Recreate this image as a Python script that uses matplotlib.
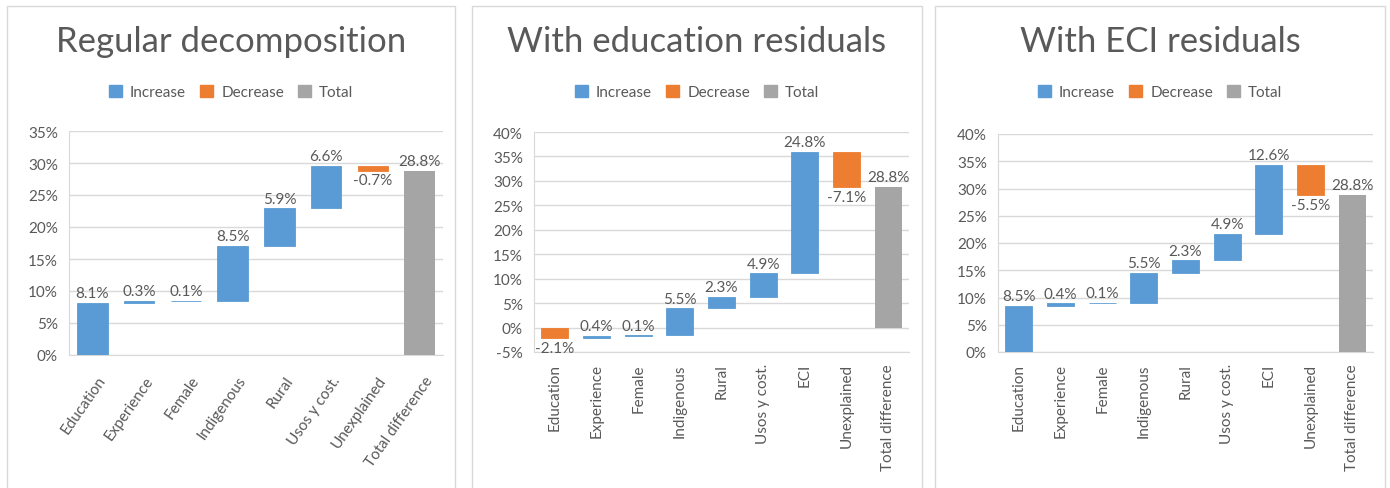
import numpy as np
import matplotlib.pyplot as plt
import matplotlib.transforms as mtransforms
from matplotlib.patches import Rectangle, Patch
from matplotlib.ticker import FuncFormatter

plt.rcParams['font.family'] = ['Lato', 'DejaVu Sans']

BLUE = '#5B9BD5'
ORANGE = '#ED7D31'
GRAY = '#A5A5A5'
TXT = '#595959'
GRID = '#D9D9D9'

# data (percentage points)
cats_regular = ["Education", "Experience", "Female", "Indigenous", "Rural",
                "Usos y cost.", "Unexplained"]
vals_regular = [8.1, 0.3, 0.1, 8.5, 5.9, 6.6, -0.7]

cats_edu = ["Education", "Experience", "Female", "Indigenous", "Rural",
            "Usos y cost.", "ECI", "Unexplained"]
vals_edu = [-2.1, 0.4, 0.1, 5.5, 2.3, 4.9, 24.8, -7.1]

cats_eci = ["Education", "Experience", "Female", "Indigenous", "Rural",
            "Usos y cost.", "ECI", "Unexplained"]
vals_eci = [8.5, 0.4, 0.1, 5.5, 2.3, 4.9, 12.6, -5.5]

total_label = "Total difference"
total_value = 28.8

titles = ["Regular decomposition", "With education residuals", "With ECI residuals"]

W, H = 1390, 489
FS = 11


def px_axes(fig, left, right, top, bottom):
    return fig.add_axes([left / W, (H - bottom) / H, (right - left) / W, (bottom - top) / H])


def waterfall(ax, cats, vals, total, ylim, rot):
    labels = cats + [total_label]
    n = len(labels)
    x = np.arange(n)
    ends = np.cumsum(vals)
    starts = ends - np.array(vals)
    for i, v in enumerate(vals):
        color = BLUE if v >= 0 else ORANGE
        ax.bar(x[i], v, bottom=starts[i], width=0.65, color=color,
               edgecolor=color, lw=0.6, zorder=3)
        if v >= 0:
            ax.annotate("%.1f%%" % v, (x[i], ends[i]), xytext=(0, 2),
                        textcoords='offset points', ha='center', va='bottom',
                        fontsize=FS, color=TXT)
        else:
            ax.annotate("%.1f%%" % v, (x[i], ends[i]), xytext=(0, -2),
                        textcoords='offset points', ha='center', va='top',
                        fontsize=FS, color=TXT)
    ax.bar(x[-1], total, width=0.65, color=GRAY, zorder=3)
    ax.annotate("%.1f%%" % total, (x[-1], total), xytext=(0, 2),
                textcoords='offset points', ha='center', va='bottom',
                fontsize=FS, color=TXT)

    ax.set_xlim(-0.5, n - 0.5)
    ax.set_ylim(*ylim)
    ax.set_yticks(np.arange(ylim[0], ylim[1] + 1, 5))
    ax.yaxis.set_major_formatter(FuncFormatter(lambda v, p: "%d%%" % v))
    ax.grid(axis='y', color=GRID, lw=1, zorder=0)
    for s in ['top', 'right']:
        ax.spines[s].set_visible(False)
    for s in ['left', 'bottom']:
        ax.spines[s].set_color(GRID)
    ax.set_xticks(x)
    ax.tick_params(axis='both', length=0, colors=TXT, labelsize=FS)
    ax.tick_params(axis='y', pad=8)
    if rot == 90:
        ax.set_xticklabels(labels, rotation=90, ha='center', va='top')
        ax.tick_params(axis='x', pad=8)
    else:
        ax.set_xticklabels(labels, rotation=rot, ha='right', va='top',
                           rotation_mode='anchor')
        ax.tick_params(axis='x', pad=13)
        shift = mtransforms.ScaledTranslation(5 / 100, 0, ax.figure.dpi_scale_trans)
        for lab in ax.get_xticklabels():
            lab.set_transform(lab.get_transform() + shift)


fig = plt.figure(figsize=(W / 100, H / 100), dpi=100)
fig.patch.set_facecolor('white')

borders = [(7, 455), (472, 922), (935, 1385)]
for l, r in borders:
    fig.patches.append(Rectangle((l / W, -0.05), (r - l) / W, (H - 7) / H + 0.05,
                                 transform=fig.transFigure, fill=False,
                                 edgecolor=GRID, lw=1))

ax1 = px_axes(fig, 69, 443, 132, 356)
waterfall(ax1, cats_regular, vals_regular, total_value, (0, 35), 55)
ax2 = px_axes(fig, 534, 909, 133, 353)
waterfall(ax2, cats_edu, vals_edu, total_value, (-5, 40), 90)
ax3 = px_axes(fig, 998, 1373, 135, 353)
waterfall(ax3, cats_eci, vals_eci, total_value, (0, 40), 90)

handles = [Patch(color=BLUE, label="Increase"), Patch(color=ORANGE, label="Decrease"),
           Patch(color=GRAY, label="Total")]
for (l, r), t in zip(borders, titles):
    cx = (l + r) / 2 / W
    fig.text(cx, 1 - 42 / H, t, ha='center', va='center', fontsize=25,
             color=TXT)
    fig.legend(handles=handles, loc='center', bbox_to_anchor=(cx, 1 - 93 / H),
               ncol=3, frameon=False, fontsize=FS, labelcolor=TXT,
               handlelength=0.85, handleheight=0.85, handletextpad=0.55,
               columnspacing=0.9)

fig.savefig("out.png", dpi=100)
